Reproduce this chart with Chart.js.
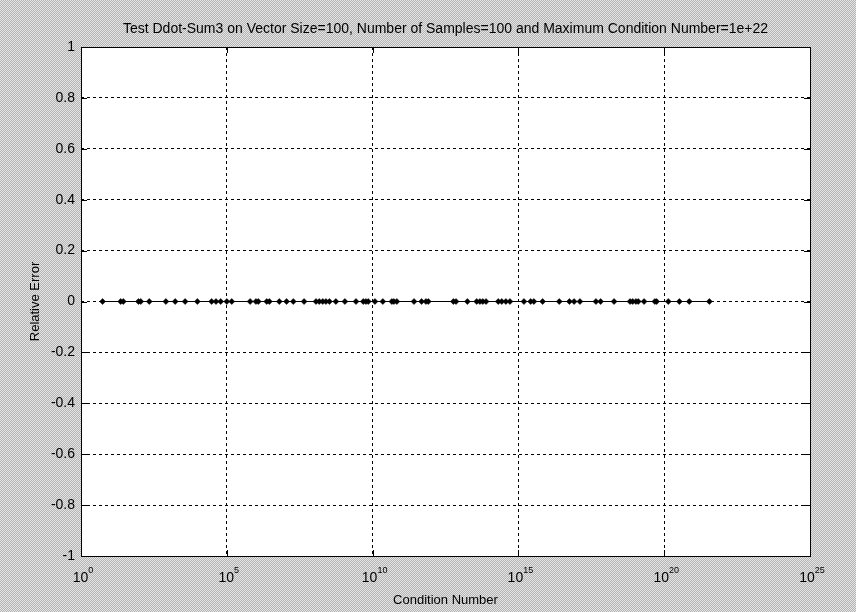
<!DOCTYPE html>
<html>
<head>
<meta charset="utf-8">
<script src="https://cdn.jsdelivr.net/npm/chart.js@4.4.0/dist/chart.umd.min.js"></script>
<style>
    html, body { margin: 0; padding: 0; }
    body {
        width: 856px;
        height: 612px;
        background: repeating-conic-gradient(#b4b4b4 0 25%, #e4e4e4 0 50%) 0 0 / 2px 2px;
    }
    #chartBox { position: relative; width: 856px; height: 612px; }
</style>
</head>
<body>
<div id="chartBox"><canvas id="errChart" width="856" height="612"></canvas></div>
<script>
// Chart text
const chartTitle = 'Test Ddot-Sum3 on Vector Size=100, Number of Samples=100 and Maximum Condition Number=1e+22';
const xTitle = 'Condition Number';
const yTitle = 'Relative Error';

// Condition numbers, read as log10 exponents off the x axis
const logCondition = [
    0.74, 1.36, 1.45, 1.97, 2.05, 2.34, 2.91, 3.23, 3.57, 3.99,
    4.48, 4.63, 4.79, 5.00, 5.17, 5.80, 6.00, 6.08, 6.37, 6.46,
    6.80, 7.05, 7.28, 7.65, 8.06, 8.17, 8.29, 8.40, 8.52, 8.74,
    9.05, 9.43, 9.68, 9.77, 9.85, 10.08, 10.35, 10.66, 10.73, 10.83,
    11.42, 11.68, 11.83, 11.91, 12.77, 12.86, 13.25, 13.57, 13.68, 13.78,
    13.89, 14.31, 14.43, 14.57, 14.71, 15.19, 15.42, 15.53, 15.83, 16.40,
    16.75, 16.91, 17.11, 17.66, 17.82, 18.28, 18.83, 18.92, 19.03, 19.11,
    19.31, 19.68, 19.74, 20.14, 20.52, 20.86, 21.55
];

// Relative error for each sample (all sit on zero)
const relError = [
    0, 0, 0, 0, 0, 0, 0, 0, 0, 0,
    0, 0, 0, 0, 0, 0, 0, 0, 0, 0,
    0, 0, 0, 0, 0, 0, 0, 0, 0, 0,
    0, 0, 0, 0, 0, 0, 0, 0, 0, 0,
    0, 0, 0, 0, 0, 0, 0, 0, 0, 0,
    0, 0, 0, 0, 0, 0, 0, 0, 0, 0,
    0, 0, 0, 0, 0, 0, 0, 0, 0, 0,
    0, 0, 0, 0, 0, 0, 0
];

// Tick values
const xTickExponents = [0, 5, 10, 15, 20, 25];
const yTickValues = [-1, -0.8, -0.6, -0.4, -0.2, 0, 0.2, 0.4, 0.6, 0.8, 1];

const fontFamily = '"Liberation Sans", Arial, Helvetica, sans-serif';

// White axes background, box, inner ticks, title and 10^n labels (MATLAB look)
const matlabAxes = {
    id: 'matlabAxes',
    beforeDraw(chart) {
        const { ctx, chartArea: a } = chart;
        ctx.save();
        ctx.fillStyle = '#ffffff';
        ctx.fillRect(a.left, a.top, a.right - a.left, a.bottom - a.top);
        ctx.restore();
    },
    afterDraw(chart) {
        const { ctx, chartArea: a, scales } = chart;
        ctx.save();
        ctx.strokeStyle = '#000';
        ctx.lineWidth = 1;
        ctx.setLineDash([]);
        ctx.strokeRect(Math.round(a.left) + 0.5, Math.round(a.top) + 0.5,
            Math.round(a.right - a.left), Math.round(a.bottom - a.top));

        // inner tick marks
        const tl = 6;
        ctx.beginPath();
        xTickExponents.forEach(e => {
            const px = Math.round(scales.x.getPixelForValue(Math.pow(10, e))) + 0.5;
            ctx.moveTo(px, a.bottom); ctx.lineTo(px, a.bottom - tl);
            ctx.moveTo(px, a.top); ctx.lineTo(px, a.top + tl);
        });
        yTickValues.forEach(v => {
            const py = Math.round(scales.y.getPixelForValue(v)) + 0.5;
            ctx.moveTo(a.left, py); ctx.lineTo(a.left + tl, py);
            ctx.moveTo(a.right, py); ctx.lineTo(a.right - tl, py);
        });
        ctx.stroke();

        // x tick labels as 10 with superscript exponent
        ctx.fillStyle = '#000';
        ctx.textBaseline = 'alphabetic';
        xTickExponents.forEach(e => {
            const px = scales.x.getPixelForValue(Math.pow(10, e));
            ctx.font = '14px ' + fontFamily;
            const base = '10';
            const bw = ctx.measureText(base).width;
            ctx.font = '9px ' + fontFamily;
            const sup = String(e);
            const sw = ctx.measureText(sup).width;
            const x0 = px - (bw + sw) / 2 + 2;
            ctx.font = '14px ' + fontFamily;
            ctx.textAlign = 'left';
            ctx.fillText(base, x0, a.bottom + 26);
            ctx.font = '9px ' + fontFamily;
            ctx.fillText(sup, x0 + bw, a.bottom + 17);
        });

        // title centred over the axes
        ctx.font = '14px ' + fontFamily;
        ctx.textAlign = 'center';
        ctx.fillText(chartTitle, (a.left + a.right) / 2, 33);
        ctx.restore();
    }
};

const points = logCondition.map((e, i) => ({ x: Math.pow(10, e), y: relError[i] }));

new Chart(document.getElementById('errChart'), {
    type: 'line',
    data: {
        datasets: [{
            data: points,
            borderColor: '#000000',
            borderWidth: 1.2,
            pointStyle: 'rectRot',
            pointRadius: 3,
            pointBackgroundColor: '#000000',
            pointBorderColor: '#000000',
            pointBorderWidth: 0.5,
            tension: 0
        }]
    },
    options: {
        responsive: false,
        animation: false,
        events: [],
        layout: { padding: { top: 47, right: 46, bottom: 0, left: 0 } },
        plugins: {
            legend: { display: false },
            tooltip: { enabled: false },
            title: { display: false }
        },
        scales: {
            x: {
                type: 'logarithmic',
                min: 1,
                max: 1e25,
                afterBuildTicks: scale => {
                    scale.ticks = xTickExponents.map(e => ({ value: Math.pow(10, e) }));
                },
                afterFit: scale => { scale.height = 56; },
                ticks: { display: false },
                grid: { color: '#000000', lineWidth: 1, drawTicks: false },
                border: { display: false, dash: [3, 3] },
                title: {
                    display: true,
                    text: xTitle,
                    color: '#000',
                    font: { family: fontFamily, size: 13 },
                    padding: { top: 0, bottom: 4 }
                }
            },
            y: {
                min: -1,
                max: 1,
                afterBuildTicks: scale => {
                    scale.ticks = yTickValues.map(v => ({ value: v }));
                },
                afterFit: scale => { scale.width = 81; },
                ticks: {
                    color: '#000',
                    padding: 6,
                    font: { family: fontFamily, size: 14 },
                    callback: v => String(Math.round(v * 10) / 10)
                },
                grid: { color: '#000000', lineWidth: 1, drawTicks: false },
                border: { display: false, dash: [3, 3] },
                title: {
                    display: true,
                    text: yTitle,
                    color: '#000',
                    font: { family: fontFamily, size: 13 },
                    padding: { top: 28, bottom: 0 }
                }
            }
        }
    },
    plugins: [matlabAxes]
});
</script>
</body>
</html>
